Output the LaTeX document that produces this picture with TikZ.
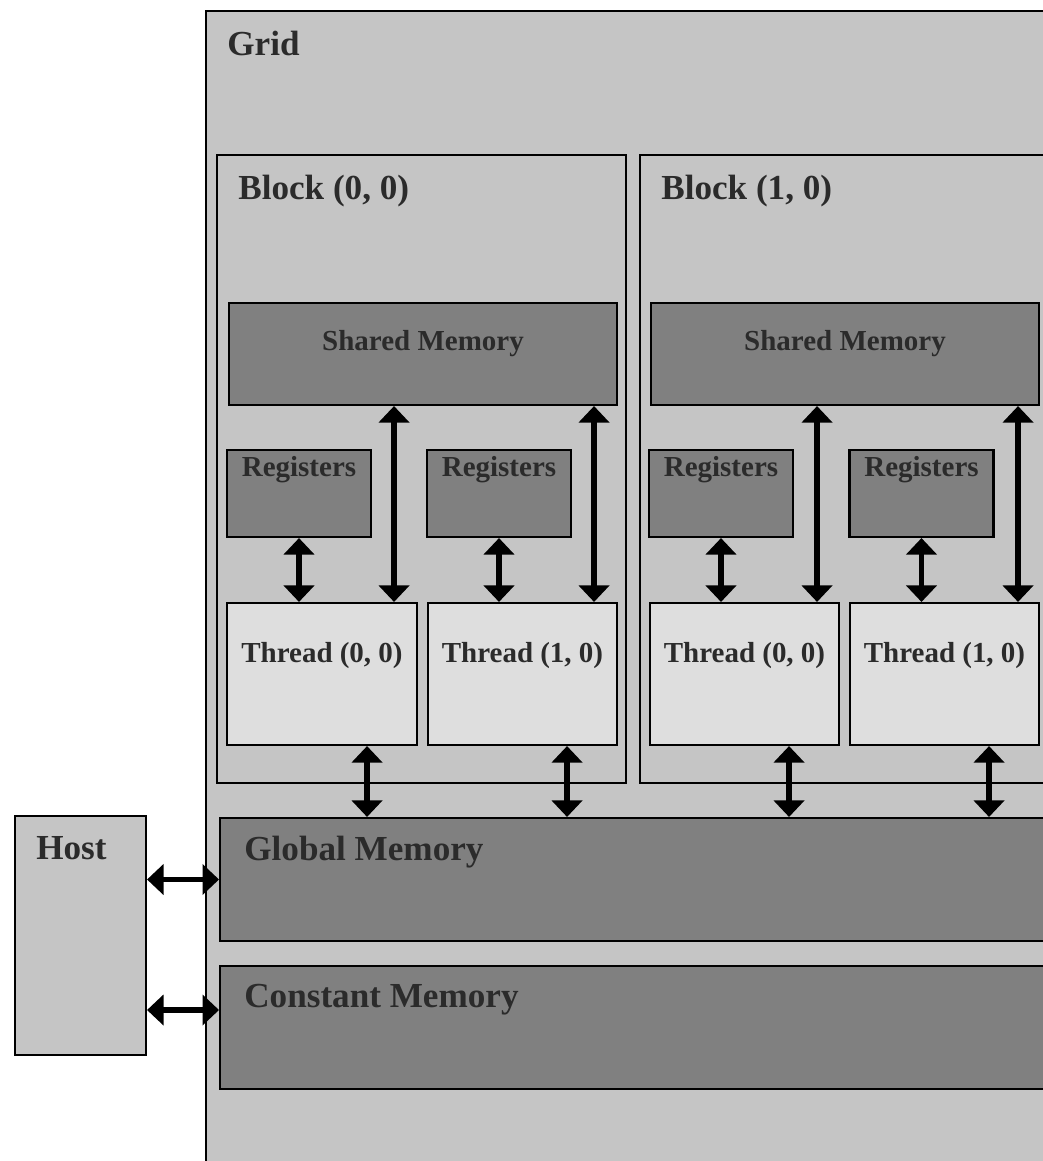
\documentclass[tikz,border=0pt]{standalone}
\usepackage{fontspec}
\setmainfont{Liberation Serif}
\usetikzlibrary{arrows.meta,calc}
\definecolor{ink}{HTML}{000000}
\definecolor{txt}{HTML}{2B2B2B}
\definecolor{gridbg}{HTML}{C5C5C5}
\definecolor{memdk}{HTML}{808080}
\definecolor{thrlt}{HTML}{DEDEDE}
\tikzset{
  area/.style={draw=ink, line width=1.2pt, fill=gridbg, rectangle, inner sep=0pt},
  mem/.style={draw=ink, line width=1.2pt, fill=memdk, rectangle, inner sep=0pt},
  thr/.style={draw=ink, line width=1.2pt, fill=thrlt, rectangle, inner sep=0pt,
              minimum height=2.84cm},
  reg/.style={mem, minimum width=2.88cm, minimum height=1.74cm},
  shm/.style={mem, minimum width=7.76cm, minimum height=2.04cm},
  % ---- text ----
  biglbl/.style={font=\fontsize{20}{24}\selectfont\bfseries, text=txt,
                 inner sep=0pt, anchor=base west},
  smllbl/.style={font=\fontsize{16.5}{20}\selectfont\bfseries, text=txt,
                 inner sep=0pt, anchor=base},
  % ---- connectors ----
  dbl/.style={{Triangle[length=0.33cm,width=0.6cm]}-{Triangle[length=0.33cm,width=0.6cm]},
              line width=3.2pt, draw=ink},
}
\newcommand{\boxtitle}[2]{\node[biglbl] (#1-t) at ([shift={(0.44cm,-0.9cm)}]#1.north west) {#2};}

\begin{document}
\begin{tikzpicture}[x=0.02cm,y=-0.02cm]
\useasboundingbox (0,0) rectangle (1043,1161);
\clip (0,0) rectangle (1043,1161);
  % grid and blocks
  \node[area, minimum width=17.28cm, minimum height=23.58cm] (grid) at (638,600.5) {};
  \node[area, minimum width=8.18cm, minimum height=12.56cm] (blk0) at (421.5,469) {};
  \node[area, minimum width=8.3cm, minimum height=12.56cm] (blk1) at (847.5,469) {};
  \boxtitle{grid}{Grid}
  \boxtitle{blk0}{Block (0, 0)}
  \boxtitle{blk1}{Block (1, 0)}
  % shared memory
  \node[shm] (shm0) at (423,354) {};
  \node[shm] (shm1) at (845,354) {};
  \node[smllbl] (shm0-t) at ([yshift=-0.98cm]shm0.north) {Shared Memory};
  \node[smllbl] (shm1-t) at ([yshift=-0.98cm]shm1.north) {Shared Memory};
  % registers
  \node[reg] (reg00) at (299,493.5) {};
  \node[reg] (reg01) at (499,493.5) {};
  \node[reg] (reg10) at (721,493.5) {};
  \node[reg] (reg11) at (921.5,493.5) {};
  \foreach \r in {reg00,reg01,reg10,reg11}
    \node[smllbl] (\r-t) at ([yshift=-0.56cm]\r.north) {Registers};
  % threads
  \node[thr, minimum width=3.8cm]  (thr00) at (322,674) {};
  \node[thr, minimum width=3.78cm] (thr01) at (522.5,674) {};
  \node[thr, minimum width=3.78cm] (thr10) at (744.5,674) {};
  \node[thr, minimum width=3.78cm] (thr11) at (944.5,674) {};
  \node[smllbl] (thr00-t) at ([yshift=-1.22cm]thr00.north) {Thread (0, 0)};
  \node[smllbl] (thr01-t) at ([yshift=-1.22cm]thr01.north) {Thread (1, 0)};
  \node[smllbl] (thr10-t) at ([yshift=-1.22cm]thr10.north) {Thread (0, 0)};
  \node[smllbl] (thr11-t) at ([yshift=-1.22cm]thr11.north) {Thread (1, 0)};
  % global / constant memory and host
  \node[mem, minimum width=17cm, minimum height=2.46cm] (glob)  at (645,879.5) {};
  \node[mem, minimum width=17cm, minimum height=2.46cm] (const) at (645,1027.5) {};
  \node[area, minimum width=2.62cm, minimum height=4.78cm] (host) at (80.5,935.5) {};
  \node[biglbl] (glob-t)  at ([shift={(0.5cm,-0.88cm)}]glob.north west)  {Global Memory};
  \node[biglbl] (const-t) at ([shift={(0.5cm,-0.86cm)}]const.north west) {Constant Memory};
  \boxtitle{host}{Host}
  % ---- connections ----
  \foreach \b in {00,01,10,11}{
    \draw[dbl] (reg\b.south) -- (reg\b.south |- thr\b.north);           % registers <-> thread
    \draw[dbl] ([xshift=-1.02cm]thr\b.south east) coordinate (g\b)
               -- (g\b |- glob.north);                                  % thread <-> global
  }
  \draw[dbl] ([xshift=-0.48cm]thr00.north east) coordinate (s00) -- (s00 |- shm0.south);
  \draw[dbl] ([xshift=-0.48cm]thr01.north east) coordinate (s01) -- (s01 |- shm0.south);
  \draw[dbl] ([xshift=-0.46cm]thr10.north east) coordinate (s10) -- (s10 |- shm1.south);
  \draw[dbl] ([xshift=-0.44cm]thr11.north east) coordinate (s11) -- (s11 |- shm1.south);
  \draw[dbl] (glob.west -| host.east) -- (glob.west);                    % host <-> global
  \draw[dbl] ([yshift=0.35cm]const.west -| host.east) -- ([yshift=0.35cm]const.west);
\end{tikzpicture}
\end{document}
